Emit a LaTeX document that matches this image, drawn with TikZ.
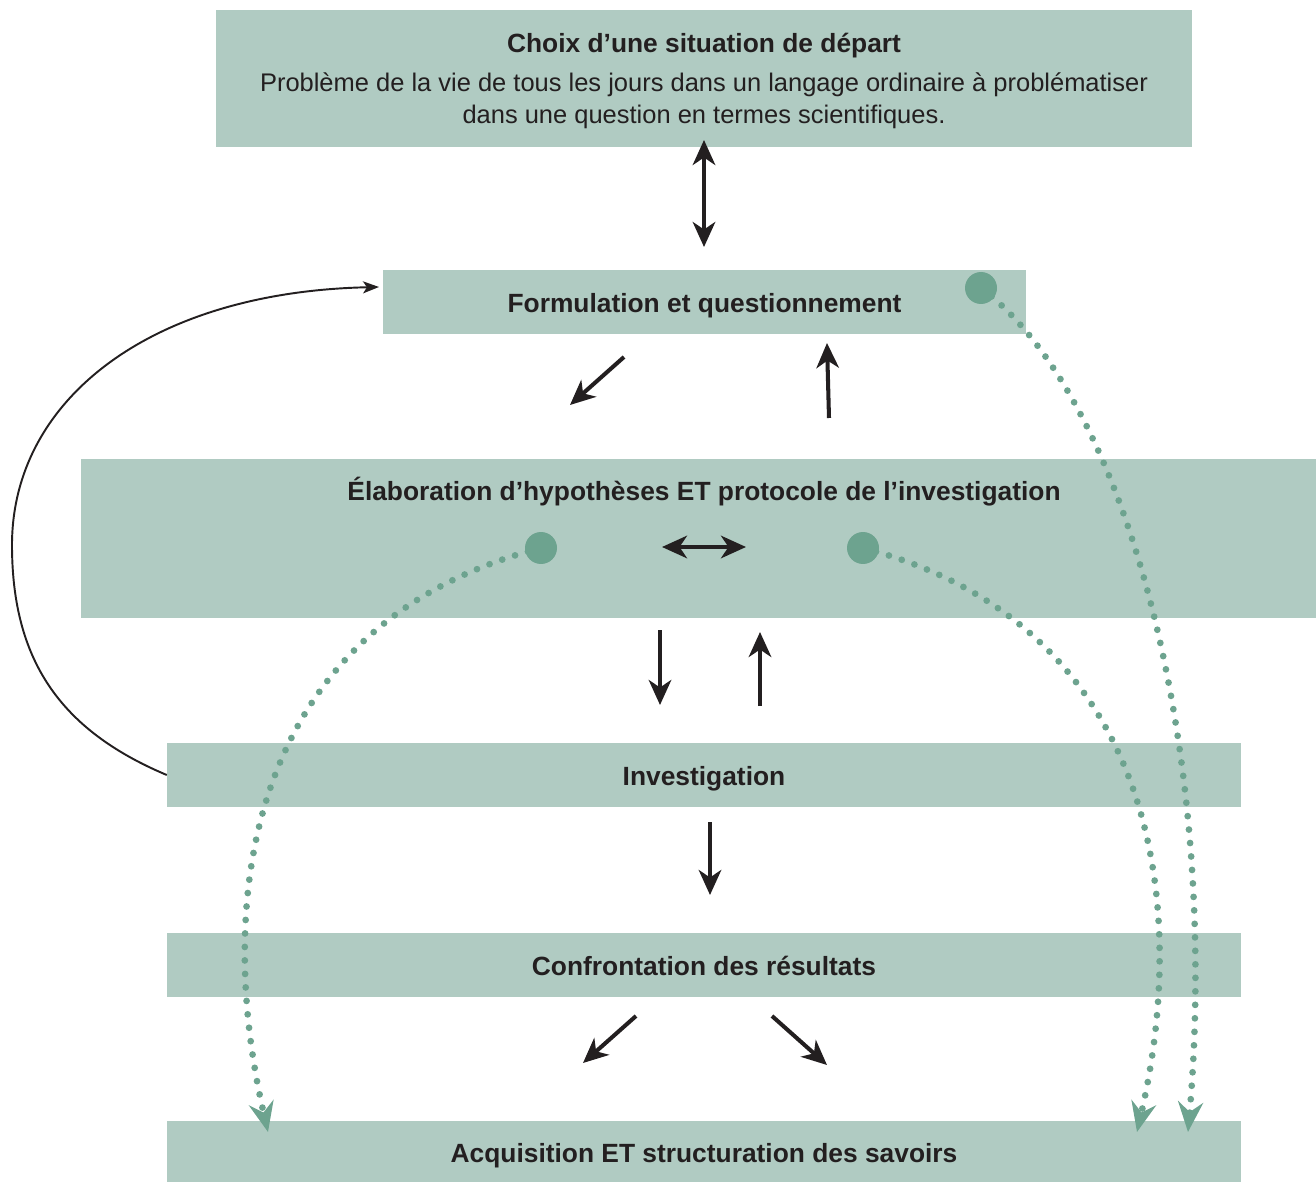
\documentclass[tikz,border=0pt]{standalone}
\usepackage{fontspec}
\setmainfont{Liberation Sans}
\usepackage{tikz}
\usetikzlibrary{positioning,arrows.meta,calc}

\definecolor{boxgreen}{HTML}{B0CBC2}
\definecolor{dotgreen}{HTML}{6DA38F}
\definecolor{ink}{HTML}{231F20}

\tikzset{
  box/.style={fill=boxgreen, inner sep=0pt, font=\bfseries\fontsize{15}{18}\selectfont, text=ink,
    text height=12.5pt, text depth=0pt},
  fat/.style={ink, line width=2.3pt, -{Stealth[length=0.5cm,width=0.45cm,inset=0.15cm]}},
  fatboth/.style={fat, {Stealth[length=0.5cm,width=0.45cm,inset=0.15cm]}-{Stealth[length=0.5cm,width=0.45cm,inset=0.15cm]}},
  thin/.style={ink, line width=1.1pt, -{Stealth[length=0.32cm,width=0.24cm,inset=0.08cm]}},
  dotty/.style={dotgreen, line width=0.135cm, line cap=round, dash pattern=on 0pt off 0.27cm,
    -{Stealth[length=0.6cm,width=0.5cm,inset=0.2cm,line cap=butt]}},
  bigdot/.style={fill=dotgreen}
}

\begin{document}
\begin{tikzpicture}[x=0.02cm,y=-0.02cm]
  \useasboundingbox (0,0) rectangle (1316,1182);
  \def\r{0.32cm} % radius of the big dots

  % the boxes
  \node[box, minimum width=19.52cm, minimum height=2.74cm] (start) at (704,78.5) {};
  \node[text=ink, align=center, font=\fontsize{14.5}{18.2}\selectfont] (starttxt) at (704,81)
    {\textbf{\fontsize{15}{18}\selectfont Choix d’une situation de départ}\\[4pt]
     Problème de la vie de tous les jours dans un langage ordinaire à problématiser\\
     dans une question en termes scientifiques.};
  \node[box, minimum width=12.86cm, minimum height=1.28cm] (form) at (704.5,302) {Formulation et questionnement};
  \node[box, minimum width=24.7cm, minimum height=3.18cm] (elab) at (698.5,538.5) {};
  \node[box] (elabtxt) at (704,490) {Élaboration d’hypothèses ET protocole de l’investigation};
  \node[box, minimum width=21.48cm, minimum height=1.28cm] (inv) at (704,775) {Investigation};
  \node[box, minimum width=21.48cm, minimum height=1.28cm] (conf) at (704,965) {Confrontation des résultats};
  \node[box, minimum width=21.48cm, minimum height=1.22cm] (acq) at (704,1151.5) {Acquisition ET structuration des savoirs};

  % short black arrows
  \coordinate (s1) at (704,140);  \coordinate (t1) at (704,247);
  \coordinate (s2) at (624,357);  \coordinate (t2) at (570,405);
  \coordinate (s3) at (829,418);  \coordinate (t3) at (827,343);
  \coordinate (s4) at (662,547);  \coordinate (t4) at (746,547);
  \coordinate (s5) at (660,630);  \coordinate (t5) at (660,705);
  \coordinate (s6) at (760,706);  \coordinate (t6) at (760,632);
  \coordinate (s7) at (710,822);  \coordinate (t7) at (710,895);
  \coordinate (s8) at (636,1016); \coordinate (t8) at (583,1063);
  \coordinate (s9) at (772,1016); \coordinate (t9) at (827,1065);
  \foreach \i in {1,4} {
    \draw[fatboth] (s\i) -- (t\i);
  }
  \foreach \i in {2,3,5,6,7,8,9} {
    \draw[fat] (s\i) -- (t\i);
  }

  % loop back from investigation
  \coordinate (back) at (379,287);
  \draw[thin] (inv.west) .. controls (60,730) and (12,660) .. (12,545)
    .. controls (12,400) and (150,292) .. (back);

  % dotted paths
  \coordinate (d1) at (541,548);
  \coordinate (d2) at (863,548);
  \coordinate (d3) at (981,288);
  \coordinate (e1) at (268,1132);
  \coordinate (e2) at (1137,1132);
  \coordinate (e3) at (1188,1132);
  \draw[dotty] (d1) .. controls (260,620) and (210,880) .. (e1);
  \draw[dotty] (d2) .. controls (1140,620) and (1195,880) .. (e2);
  \draw[dotty] (d3) .. controls (1130,400) and (1220,760) .. (e3);
  \foreach \p in {d1,d2,d3} {
    \fill[bigdot] (\p) circle (\r);
  }
\end{tikzpicture}
\end{document}
